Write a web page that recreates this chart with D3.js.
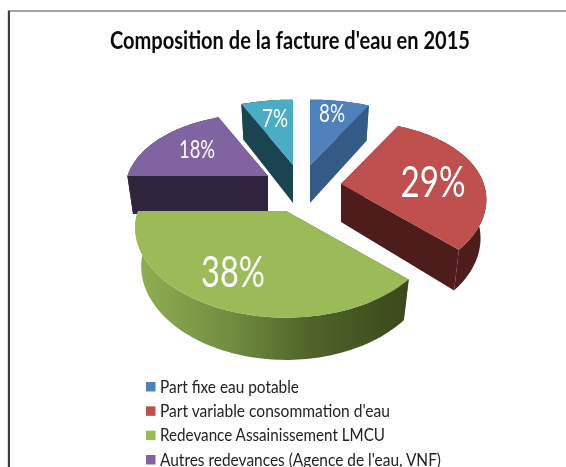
<!DOCTYPE html>
<html><head><meta charset="utf-8">
<script src="https://cdn.jsdelivr.net/npm/d3@7/dist/d3.min.js"></script>
<style>html,body{margin:0;padding:0;background:#fff}svg{display:block;filter:blur(.35px)}text{font-family:Lato,"Open Sans",sans-serif}</style>
</head><body><svg id="c" width="566" height="467"></svg>
<script>
const title = "Composition de la facture d'eau en 2015";
const legendLabels = ["Part fixe eau potable","Part variable consommation d'eau","Redevance Assainissement LMCU","Autres redevances (Agence de l'eau, VNF)"];
const legendWidths = [139,230,225,281];
const values = [8,29,38,18,7];
const labels = ["8%","29%","38%","18%","7%"];
const topColors = ["#4f81bd","#c0504d","#9bbb59","#8064a2","#4bacc6"];
const wallColors = ["#345a86","#4d1c1b","#3d4c1e","#30243f","#1a444f"];
const apexX = [310,341,286,268,293];
const apexY = [165,184,211,176,165];
const radiusScale = [1,.965,1,.95,1];
const labelPos = [[332,112,25,26],[433,181,42,65],[233,271,42,64],[197,148,25,36],[275,117,25,26]];
const paintOrder = [4,0,3,1,2];

const svg = d3.select("#c");
const pie = d3.pie().sort(null).value(d=>d)(values);
const RX=148, RY=86, DEPTH=38;
function proj(theta, r){
  const yn=Math.cos(theta)*r, xn=Math.sin(theta)*r;
  return [xn*RX*(1-.2*yn), -yn*RY*(1-.24*yn)];
}
const defs=svg.append("defs");
const g=defs.append("linearGradient").attr("id","greenRim").attr("gradientUnits","userSpaceOnUse")
  .attr("x1",140).attr("x2",405).attr("y1",0).attr("y2",0);
[[0,"#8fae52"],[.35,"#6f8c40"],[.65,"#4f6329"],[1,"#3a4a1c"]].forEach(s=>g.append("stop").attr("offset",s[0]).attr("stop-color",s[1]));

svg.append("rect").attr("x",8.5).attr("y",11).attr("width",620).attr("height",520)
  .attr("fill","#fff").attr("stroke","#868686").attr("stroke-width",1.5);
svg.append("line").attr("x1",9).attr("x2",9).attr("y1",11).attr("y2",467).attr("stroke","#3c3c3c").attr("stroke-width",2);

svg.append("text").attr("x",290).attr("y",49).attr("text-anchor","middle")
  .attr("font-size",25).attr("font-weight",700).attr("fill","#0a0a0a")
  .attr("textLength",360).attr("lengthAdjust","spacingAndGlyphs").text(title);

const line=d3.line();
paintOrder.forEach(i=>{
  const s=pie[i], ax=apexX[i], ay=apexY[i], rs=radiusScale[i];
  const n=Math.max(2,Math.round((s.endAngle-s.startAngle)*40));
  const angles=d3.range(n+1).map(k=>s.startAngle+(s.endAngle-s.startAngle)*k/n);
  const topPt=p=>[ax+p[0],ay+p[1]];
  const botPt=p=>[ax+p[0]*.96,ay+p[1]*1.04+DEPTH];
  const rim=angles.map(a=>proj(a,rs));
  const o=[0,0];
  const wall=(a,b)=>[topPt(a),topPt(b),botPt(b),botPt(a)];
  svg.append("path").attr("d",line(wall(o,rim[0]))+"Z").attr("fill",wallColors[i]);
  svg.append("path").attr("d",line(wall(o,rim[n]))+"Z").attr("fill",wallColors[i]);
  svg.append("path").attr("d",line(rim.map(topPt).concat(rim.map(botPt).reverse()))+"Z")
    .attr("fill",i===2?"url(#greenRim)":wallColors[i]);
  svg.append("path").attr("d",line([topPt(o)].concat(rim.map(topPt)))+"Z").attr("fill",topColors[i]);
  svg.append("text").attr("x",labelPos[i][0]).attr("y",labelPos[i][1]).attr("text-anchor","middle")
    .attr("dominant-baseline","central").attr("font-size",labelPos[i][2]).attr("fill","#fff")
    .attr("textLength",labelPos[i][3]).attr("lengthAdjust","spacingAndGlyphs").text(labels[i]);
});

const ly=d3.scalePoint().domain(legendLabels).range([387,460]);
legendLabels.forEach((t,i)=>{
  svg.append("rect").attr("x",146).attr("y",ly(t)-5).attr("width",9.5).attr("height",9.5).attr("fill",topColors[i]);
  svg.append("text").attr("x",160).attr("y",ly(t)+5.5).attr("font-size",17.5).attr("fill","#222")
    .attr("textLength",legendWidths[i]).attr("lengthAdjust","spacingAndGlyphs").text(t);
});
</script></body></html>
